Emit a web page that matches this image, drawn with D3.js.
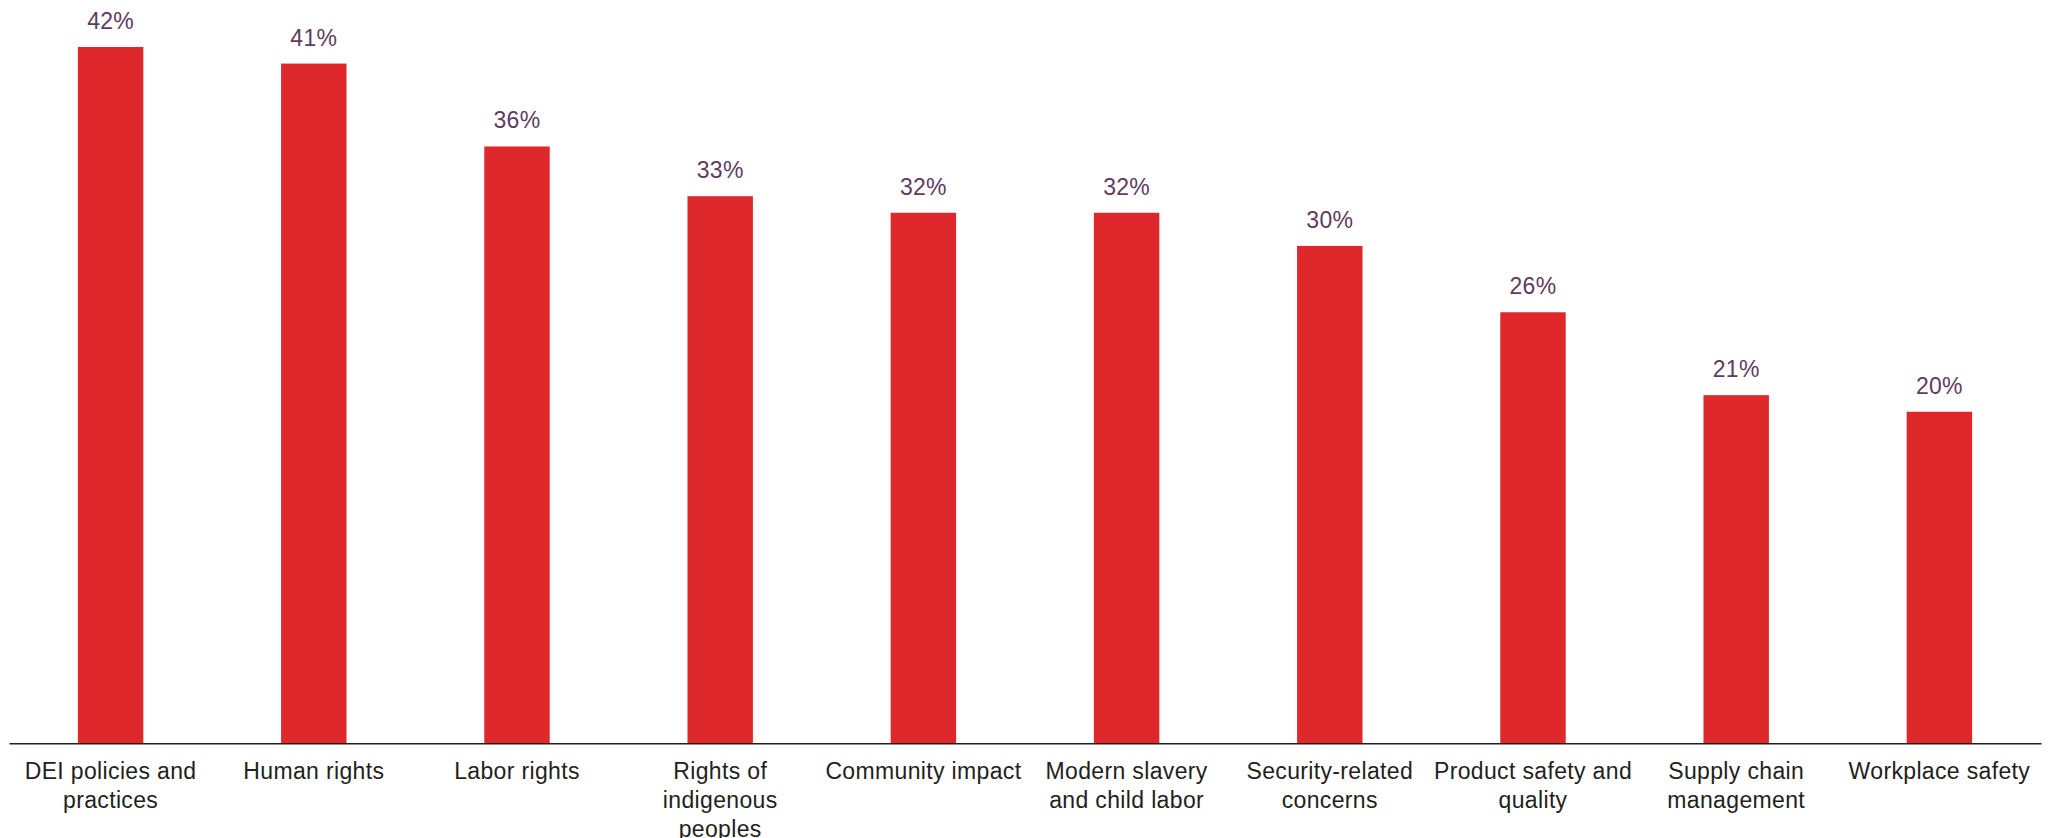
<!DOCTYPE html>
<html>
<head>
<meta charset="utf-8">
<script src="https://cdn.jsdelivr.net/npm/d3@7"></script>
<style>
  html, body { margin: 0; padding: 0; background: #ffffff; }
  svg { display: block; }
</style>
</head>
<body>
<svg id="chart" width="2048" height="838"></svg>
<script>
// Share of respondents citing each social issue
const categories = [
  "DEI policies and\npractices",
  "Human rights",
  "Labor rights",
  "Rights of\nindigenous\npeoples",
  "Community impact",
  "Modern slavery\nand child labor",
  "Security-related\nconcerns",
  "Product safety and\nquality",
  "Supply chain\nmanagement",
  "Workplace safety"
];
const values = [42, 41, 36, 33, 32, 32, 30, 26, 21, 20];

const svg = d3.select("#chart");
const margin = { left: 9, right: 7, top: 47, baseline: 743.3 };
const W = 2048;

const x = d3.scaleBand()
  .domain(categories)
  .range([margin.left, W - margin.right])
  .paddingInner(0.678)
  .paddingOuter(0.339);

const y = d3.scaleLinear()
  .domain([0, d3.max(values)])
  .range([margin.baseline, margin.top]);

const data = categories.map((c, i) => ({ c, v: values[i] }));

// bars
svg.append("g").selectAll("rect")
  .data(data)
  .join("rect")
  .attr("x", d => x(d.c))
  .attr("y", d => y(d.v))
  .attr("width", x.bandwidth())
  .attr("height", d => y(0) - y(d.v))
  .attr("fill", "#de282b");

// value labels
svg.append("g").selectAll("text")
  .data(data)
  .join("text")
  .attr("x", d => x(d.c) + x.bandwidth() / 2)
  .attr("y", d => y(d.v) - 18)
  .attr("text-anchor", "middle")
  .attr("font-family", "Liberation Sans, Arial, sans-serif")
  .attr("font-size", 23)
  .attr("letter-spacing", 0.3)
  .attr("fill", "#5f3b5e")
  .text(d => d.v + "%");

// category axis
const axis = d3.axisBottom(x).tickSize(0).tickPadding(0);
const gx = svg.append("g")
  .attr("transform", `translate(0,${margin.baseline})`)
  .call(axis);
gx.select(".domain").attr("stroke", "#231f20").attr("stroke-width", 1.4);
gx.selectAll(".tick text").each(function(d) {
  const t = d3.select(this);
  const lines = d.split("\n");
  t.text(null)
    .attr("font-family", "Liberation Sans, Arial, sans-serif")
    .attr("font-size", 23)
    .attr("letter-spacing", 0.35)
    .attr("fill", "#231f20")
    .attr("dy", null)
    .attr("y", 0);
  lines.forEach((ln, i) => {
    t.append("tspan")
      .attr("x", 0)
      .attr("y", 36 + i * 29)
      .text(ln);
  });
});
</script>
</body>
</html>
